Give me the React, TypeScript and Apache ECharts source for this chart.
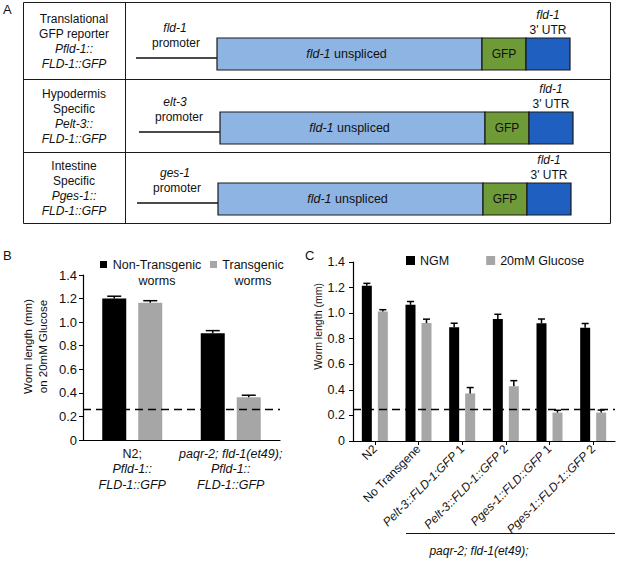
import React, { useEffect, useRef } from "react";
import * as echarts from "echarts";

const FONT = "'Liberation Sans', Arial, Helvetica, sans-serif";

// ---------- Panel A (construct diagram) ----------
const aRowLabels = [
  ["Translational", "GFP reporter", "Pfld-1::", "FLD-1::GFP"],
  ["Hypodermis", "Specific", "Pelt-3::", "FLD-1::GFP"],
  ["Intestine", "Specific", "Pges-1::", "FLD-1::GFP"],
];
const aPromoters = ["fld-1", "elt-3", "ges-1"];
const aGene = "fld-1";
const aCodingLabel = "unspliced";
const aTagLabel = "GFP";
const aUtrLabel = "3' UTR";
const aPromoterWord = "promoter";

// ---------- Panel B ----------
const bCategoryLines = [
  ["N2;", "Pfld-1::", "FLD-1::GFP"],
  ["paqr-2; fld-1(et49);", "Pfld-1::", "FLD-1::GFP"],
];
const bCategoryItalic = [
  [false, true, true],
  [true, true, true],
];
const bSeriesNames = ["Non-Transgenic worms", "Transgenic worms"];
const bNonTransgenic = [1.2, 0.905];
const bNonTransgenicErr = [0.02, 0.023];
const bTransgenic = [1.165, 0.362];
const bTransgenicErr = [0.017, 0.018];
const bThreshold = 0.26;
const bYTicks = [0, 1.4, 0.2]; // min, max, interval

// ---------- Panel C ----------
const cCategories = [
  ["N2", ""],
  ["No Transgene", ""],
  ["Pelt-3::FLD-1:GFP", " 1"],
  ["Pelt-3::FLD-1::GFP", " 2"],
  ["Pges-1::FLD::GFP", " 1"],
  ["Pges-1::FLD-1::GFP", " 2"],
];
const cItalic = [false, false, true, true, true, true];
const cSeriesNames = ["NGM", "20mM Glucose"];
const cNGM = [1.215, 1.065, 0.89, 0.955, 0.92, 0.885];
const cNGMErr = [0.018, 0.026, 0.031, 0.036, 0.034, 0.034];
const cGlucose = [1.012, 0.922, 0.372, 0.428, 0.222, 0.222];
const cGlucoseErr = [0.015, 0.031, 0.046, 0.044, 0.018, 0.02];
const cThreshold = 0.25;
const cYTicks = [0, 1.4, 0.2];
const cBracketLabel = "paqr-2; fld-1(et49);";

const BLACK = "#000000";
const GREY = "#a6a6a6";

function errorSeries(
  xAxisIndex: number,
  yAxisIndex: number,
  values: number[],
  errs: number[],
  offset: number,
  capHalf: number
) {
  return {
    type: "custom",
    xAxisIndex,
    yAxisIndex,
    z: 5,
    silent: true,
    data: values.map((v, i) => [i, v, v + errs[i]]),
    renderItem: (params: any, api: any) => {
      const i = api.value(0);
      const lo = api.coord([i, api.value(1)]);
      const hi = api.coord([i, api.value(2)]);
      const cx = lo[0] + offset;
      const st = { stroke: "#000", lineWidth: 1.5 };
      return {
        type: "group",
        children: [
          { type: "line", shape: { x1: cx, y1: lo[1], x2: cx, y2: hi[1] }, style: st },
          { type: "line", shape: { x1: cx - capHalf, y1: hi[1], x2: cx + capHalf, y2: hi[1] }, style: st },
        ],
      };
    },
  };
}

function buildPanelA() {
  const els: any[] = [];
  const border = "#1a1a1a";
  const left = 23.5, right = 610.5, top = 2.5, bottom = 223.5, divX = 125.5;
  const rowTops = [2.5, 79.5, 152.5, 223.5];
  els.push({ type: "rect", shape: { x: left, y: top, width: right - left, height: bottom - top }, style: { fill: "none", stroke: border, lineWidth: 1 } });
  els.push({ type: "line", shape: { x1: divX, y1: top, x2: divX, y2: bottom }, style: { stroke: border, lineWidth: 1 } });
  els.push({ type: "line", shape: { x1: left, y1: rowTops[1], x2: right, y2: rowTops[1] }, style: { stroke: border, lineWidth: 1 } });
  els.push({ type: "line", shape: { x1: left, y1: rowTops[2], x2: right, y2: rowTops[2] }, style: { stroke: border, lineWidth: 1 } });

  const boxTops = [38, 112, 183];
  const shifts = [0, 3, 1];
  const boxH = 32;
  aRowLabels.forEach((lines, r) => {
    const mid = (rowTops[r] + rowTops[r + 1]) / 2;
    lines.forEach((t, k) => {
      els.push({
        type: "text",
        style: {
          text: t,
          x: 74,
          y: mid + (k - 1.5) * 15,
          align: "center",
          verticalAlign: "middle",
          fontSize: 12,
          fontFamily: FONT,
          fontStyle: k >= 2 ? "italic" : "normal",
          fill: "#111",
        },
      });
    });
    const s = shifts[r];
    const bt = boxTops[r];
    const x0 = 136 + s, x1 = 217 + s, x2 = 482 + s, x3 = 526 + s, x4 = 570 + s;
    const ly = bt + 20;
    els.push({ type: "line", shape: { x1: x0, y1: ly, x2: x1, y2: ly }, style: { stroke: "#111", lineWidth: 1.3 } });
    els.push({ type: "rect", shape: { x: x1, y: bt, width: x2 - x1, height: boxH }, style: { fill: "#8db4e2", stroke: border, lineWidth: 1.2 } });
    els.push({ type: "rect", shape: { x: x2, y: bt, width: x3 - x2, height: boxH }, style: { fill: "#6e9b37", stroke: border, lineWidth: 1.2 } });
    els.push({ type: "rect", shape: { x: x3, y: bt, width: x4 - x3, height: boxH }, style: { fill: "#1f5fbf", stroke: border, lineWidth: 1.2 } });
    els.push({
      type: "text",
      style: {
        text: "{i|" + aGene + "} " + aCodingLabel,
        x: (x1 + x2) / 2 - 3,
        y: bt + boxH / 2,
        align: "center",
        verticalAlign: "middle",
        fontSize: 12.5,
        fontFamily: FONT,
        fill: "#111",
        rich: { i: { fontStyle: "italic", fontSize: 12.5, fontFamily: FONT, fill: "#111" } },
      },
    });
    els.push({
      type: "text",
      style: { text: aTagLabel, x: (x2 + x3) / 2, y: bt + boxH / 2, align: "center", verticalAlign: "middle", fontSize: 12, fontFamily: FONT, fill: "#111" },
    });
    els.push({
      type: "text",
      style: { text: aPromoters[r], x: 175, y: bt - 10, align: "center", verticalAlign: "middle", fontSize: 12, fontFamily: FONT, fontStyle: "italic", fill: "#111" },
    });
    els.push({
      type: "text",
      style: { text: aPromoterWord, x: 176 + s, y: bt + 5, align: "center", verticalAlign: "middle", fontSize: 12, fontFamily: FONT, fill: "#111" },
    });
    els.push({
      type: "text",
      style: { text: aGene, x: (x3 + x4) / 2, y: bt - 23, align: "center", verticalAlign: "middle", fontSize: 12, fontFamily: FONT, fontStyle: "italic", fill: "#111" },
    });
    els.push({
      type: "text",
      style: { text: aUtrLabel, x: (x3 + x4) / 2, y: bt - 8, align: "center", verticalAlign: "middle", fontSize: 12, fontFamily: FONT, fill: "#111" },
    });
  });

  // panel letters
  const letter = (t: string, x: number, y: number) => ({
    type: "text",
    style: { text: t, x, y, align: "left", verticalAlign: "middle", fontSize: 13, fontFamily: FONT, fill: "#111" },
  });
  els.push(letter("A", 3, 9));
  els.push(letter("B", 3, 255));
  els.push(letter("C", 305, 255));

  // bracket under panel C labels
  els.push({ type: "line", shape: { x1: 406, y1: 533.5, x2: 615, y2: 533.5 }, style: { stroke: "#111", lineWidth: 1.2 } });
  els.push({
    type: "text",
    style: { text: cBracketLabel, x: 479, y: 551, align: "center", verticalAlign: "middle", fontSize: 12, fontFamily: FONT, fontStyle: "italic", fill: "#111" },
  });
  return els;
}

export default function App() {
  const ref = useRef<HTMLDivElement>(null);
  useEffect(() => {
    if (!ref.current) return;
    const chart = echarts.init(ref.current, null, { renderer: "svg" });
    const yFmt = (v: number) => (v === 0 ? "0" : v.toFixed(1));
    const option: any = {
      animation: false,
      textStyle: { fontFamily: FONT },
      legend: [
        {
          data: bSeriesNames,
          left: 95,
          top: 253,
          icon: "rect",
          itemWidth: 7,
          itemHeight: 7,
          itemGap: 8,
          selectedMode: false,
          formatter: (name: string) => {
            const parts = name.split(" ");
            const key = name === bSeriesNames[0] ? "a" : "t";
            return "{" + key + "|" + parts[0] + "}\n{" + key + "|" + parts[1] + "}";
          },
          textStyle: {
            color: "#111",
            fontSize: 12.5,
            fontFamily: FONT,
            padding: [16, 0, 0, 0],
            rich: {
              a: { width: 90, align: "center", fontSize: 12.5, lineHeight: 16, fontFamily: FONT, color: "#111" },
              t: { width: 62, align: "center", fontSize: 12.5, lineHeight: 16, fontFamily: FONT, color: "#111" },
            },
          },
        },
        {
          data: cSeriesNames,
          left: 401,
          top: 249,
          icon: "rect",
          itemWidth: 9,
          itemHeight: 9,
          itemGap: 37,
          selectedMode: false,
          textStyle: { color: "#111", fontSize: 12.5, fontFamily: FONT },
        },
      ],
      grid: [
        { left: 83, top: 275, width: 197, height: 165 },
        { left: 353, top: 262, width: 262, height: 179 },
      ],
      xAxis: [
        {
          gridIndex: 0,
          type: "category",
          data: bCategoryLines.map((_, i) => String(i)),
          axisLine: { lineStyle: { color: "#000", width: 1.2 } },
          axisTick: { show: false },
          axisLabel: {
            interval: 0,
            margin: 6,
            color: "#111",
            fontSize: 12.5,
            lineHeight: 15.5,
            formatter: (_v: string, idx: number) =>
              bCategoryLines[idx]
                .map((l, k) => (bCategoryItalic[idx][k] ? "{i|" + l + "}" : "{n|" + l + "}"))
                .join("\n"),
            rich: {
              i: { fontStyle: "italic", fontSize: 12.5, lineHeight: 15.5, fontFamily: FONT, color: "#111" },
              n: { fontSize: 12.5, lineHeight: 15.5, fontFamily: FONT, color: "#111" },
            },
          },
        },
        {
          gridIndex: 1,
          type: "category",
          data: cCategories.map((c) => c[0] + c[1]),
          axisLine: { lineStyle: { color: "#000", width: 1.2 } },
          axisTick: { show: true, alignWithLabel: true, length: 4, lineStyle: { color: "#000" } },
          axisLabel: {
            interval: 0,
            rotate: 45,
            margin: 6,
            color: "#111",
            fontSize: 12,
            formatter: (_v: string, idx: number) => {
              const c = cCategories[idx];
              return (cItalic[idx] ? "{i|" + c[0] + "}" : "{n|" + c[0] + "}") + (c[1] ? "{n|" + c[1] + "}" : "");
            },
            rich: {
              i: { fontStyle: "italic", fontSize: 12, fontFamily: FONT, color: "#111" },
              n: { fontSize: 12, fontFamily: FONT, color: "#111" },
            },
          },
        },
      ],
      yAxis: [
        {
          gridIndex: 0,
          type: "value",
          min: bYTicks[0],
          max: bYTicks[1],
          interval: bYTicks[2],
          axisLine: { show: true, lineStyle: { color: "#000", width: 1.2 } },
          axisTick: { show: true, length: 4, lineStyle: { color: "#000" } },
          splitLine: { show: false },
          axisLabel: { formatter: yFmt, color: "#111", fontSize: 13, margin: 6 },
          name: "Worm length (mm)\non 20mM Glucose",
          nameLocation: "middle",
          nameRotate: 90,
          nameGap: 33,
          nameTextStyle: { color: "#111", fontSize: 11.5, lineHeight: 15, padding: [0, 0, 0, 22] },
        },
        {
          gridIndex: 1,
          type: "value",
          min: cYTicks[0],
          max: cYTicks[1],
          interval: cYTicks[2],
          axisLine: { show: true, lineStyle: { color: "#000", width: 1.2 } },
          axisTick: { show: true, length: 4, lineStyle: { color: "#000" } },
          splitLine: { show: false },
          axisLabel: { formatter: yFmt, color: "#111", fontSize: 12.5, margin: 8 },
          name: "Worm length (mm)",
          nameLocation: "middle",
          nameRotate: 90,
          nameGap: 24,
          nameTextStyle: { color: "#111", fontSize: 10.5, padding: [0, 0, 0, 50] },
        },
      ],
      series: [
        {
          name: bSeriesNames[0],
          type: "bar",
          xAxisIndex: 0,
          yAxisIndex: 0,
          data: bNonTransgenic,
          barWidth: 24,
          barGap: "50%",
          itemStyle: { color: BLACK },
          markLine: {
            silent: true,
            symbol: "none",
            label: { show: false },
            lineStyle: { color: "#000", type: [8, 5], width: 1.3 },
            data: [{ yAxis: bThreshold }],
          },
        },
        {
          name: bSeriesNames[1],
          type: "bar",
          xAxisIndex: 0,
          yAxisIndex: 0,
          data: bTransgenic,
          barWidth: 24,
          barGap: "50%",
          itemStyle: { color: GREY },
        },
        errorSeries(0, 0, bNonTransgenic, bNonTransgenicErr, -18, 7),
        errorSeries(0, 0, bTransgenic, bTransgenicErr, 18, 7),
        {
          name: cSeriesNames[0],
          type: "bar",
          xAxisIndex: 1,
          yAxisIndex: 1,
          data: cNGM,
          barWidth: 10,
          barGap: "60%",
          itemStyle: { color: BLACK },
          markLine: {
            silent: true,
            symbol: "none",
            label: { show: false },
            lineStyle: { color: "#000", type: [8, 5], width: 1.3 },
            data: [{ yAxis: cThreshold }],
          },
        },
        {
          name: cSeriesNames[1],
          type: "bar",
          xAxisIndex: 1,
          yAxisIndex: 1,
          data: cGlucose,
          barWidth: 10,
          barGap: "60%",
          itemStyle: { color: GREY },
        },
        errorSeries(1, 1, cNGM, cNGMErr, -8, 3.5),
        errorSeries(1, 1, cGlucose, cGlucoseErr, 8, 3.5),
      ],
      graphic: buildPanelA(),
    };
    chart.setOption(option);
    return () => chart.dispose();
  }, []);
  return (
    <div
      ref={ref}
      style={{ position: "absolute", left: 0, top: 0, width: 617, height: 565, background: "#fff" }}
    />
  );
}
